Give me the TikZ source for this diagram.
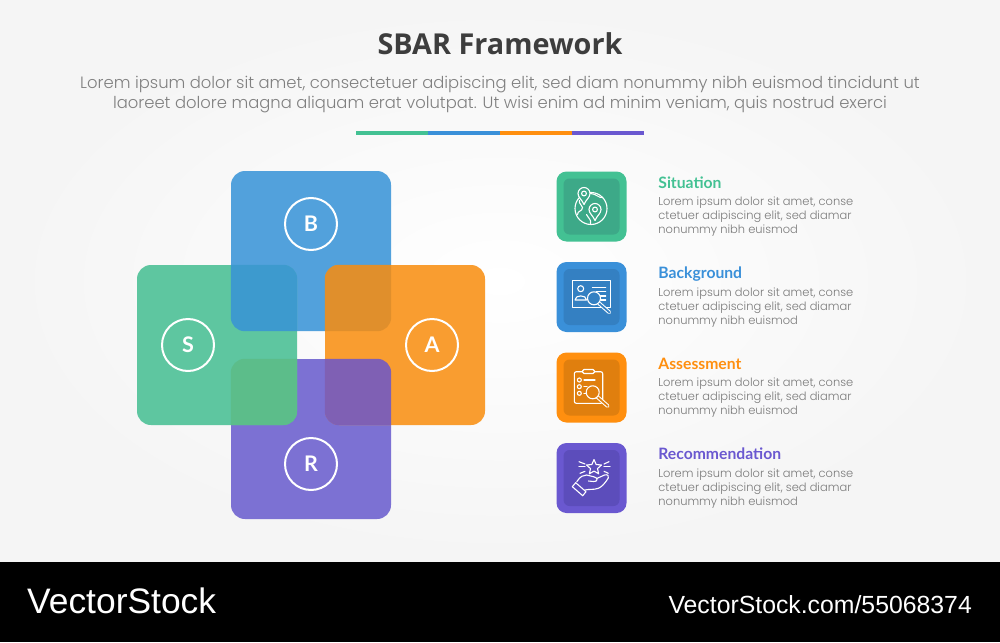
\documentclass[tikz,border=0pt]{standalone}
\usepackage{fontspec}
\usepackage{xcolor}
\usetikzlibrary{positioning}
\setmainfont{Poppins}
\newfontfamily\lightfont{Poppins Light}
\newfontfamily\headfont{Lato}
\newfontfamily\titlefont{Open Sans}
\newfontfamily\logofont{Liberation Sans}
\definecolor{sgreen}{HTML}{43C193}
\definecolor{sgreenin}{HTML}{3DA988}
\definecolor{bblue}{HTML}{3A90D9}
\definecolor{bbluein}{HTML}{3480C2}
\definecolor{aorange}{HTML}{FF8F0F}
\definecolor{aorangein}{HTML}{E07F0E}
\definecolor{rpurple}{HTML}{6A58D0}
\definecolor{rpurplein}{HTML}{5C4DBB}
\tikzstyle{big tile}=[
    minimum size = 160pt,
    inner sep = 0pt,
    rounded corners = 14pt
]
\tikzstyle{letter}=[
    draw = white,
    line width = 2pt,
    circle,
    minimum size = 52pt,
    inner sep = 0pt,
    text = white,
    font = \headfont\bfseries\fontsize{21.5}{21.5}\selectfont
]
\tikzstyle{icon tile}=[
    minimum size = 70pt,
    inner sep = 0pt,
    rounded corners = 10pt
]
\tikzstyle{icon inner}=[
    minimum size = 56pt,
    inner sep = 0pt,
    rounded corners = 6pt
]
\tikzstyle{head text}=[
    inner sep = 0pt,
    text height = 10pt,
    text depth = 3pt,
    font = \headfont\bfseries\fontsize{15.7}{15.7}\selectfont
]
\tikzstyle{body text}=[
    inner sep = 0pt,
    align = left,
    text = black!52,
    font = \lightfont\fontsize{11.45}{14}\selectfont
]
\tikzstyle{icon line}=[
    draw = white,
    line width = 1.1pt,
    line cap = round,
    line join = round
]
\tikzstyle{bar}=[
    minimum height = 4pt,
    minimum width = 72pt,
    inner sep = 0pt,
    outer sep = 0pt
]
\newcommand{\bodylorem}{Lorem ipsum dolor sit amet, conse\\ctetuer adipiscing elit, sed diamar\\nonummy nibh euismod}
% pin: x, y, fill colour
\newcommand{\mappin}[3]{
    \draw[icon line, fill=#3] (#1,#2+11) .. controls (#1-2,#2+6) and (#1-6,#2+4) .. (#1-6,#2) arc (180:360:6) .. controls (#1+6,#2+4) and (#1+2,#2+6) .. cycle;
    \draw[icon line] (#1,#2) circle (2.4);
}
% magnifier: x, y, handle end x, y, fill colour
\newcommand{\magnifier}[5]{
    \draw[line cap=round, draw=white, line width=3.8pt] (#1+4.6,#2+4.6) -- (#3,#4);
    \draw[line cap=round, draw=#5, line width=1.7pt] (#1+4.6,#2+4.6) -- (#3,#4);
    \draw[icon line, fill=#5] (#1,#2) circle (6.5);
}

\begin{document}
\begin{tikzpicture}[x=1pt, y=-1pt, node distance={90.5pt}]
    \useasboundingbox (0,0) rectangle (1000,642);
    \shade[inner color=white, outer color=black!4] (0,0) rectangle (1000,562);
    \fill[black] (0,562) rectangle (1000,642);

    \node[font=\titlefont\bfseries\fontsize{28.8}{28.8}\selectfont, text=black!76] (title) at (500,44) {SBAR Framework};
    \node[align=center, text=black!50, font=\lightfont\fontsize{16.4}{20}\selectfont] (subtitle) at (500,95) {Lorem ipsum dolor sit amet, consectetuer adipiscing elit, sed diam nonummy nibh euismod tincidunt ut\\laoreet dolore magna aliquam erat volutpat. Ut wisi enim ad minim veniam, quis nostrud exerci};

    \node[bar, fill=sgreen] (bar1) at (392,132.7) {};
    \node[bar, fill=bblue, right=0pt of bar1] (bar2) {};
    \node[bar, fill=aorange, right=0pt of bar2] (bar3) {};
    \node[bar, fill=rpurple, right=0pt of bar3] (bar4) {};

    % the four big tiles
    \node[big tile, fill={rgb,255:red,124;green,113;blue,211}] (R) at (311,439) {};
    \node[big tile, fill={rgb,255:red,82;green,161;blue,220}] (B) at (311,251) {};
    \node[big tile, fill={rgb,255:red,94;green,198;blue,160}] (S) at (217,345) {};
    \node[big tile, fill={rgb,255:red,249;green,157;blue,48}] (A) at (405,345) {};

    % overlaps
    \begin{scope}
        \clip[rounded corners=14pt] (S.south west) rectangle (S.north east);
        \fill[rounded corners=14pt, fill={rgb,255:red,61;green,154;blue,206}] (B.south west) rectangle (B.north east);
    \end{scope}
    \begin{scope}
        \clip[rounded corners=14pt] (B.south west) rectangle (B.north east);
        \fill[rounded corners=14pt, fill={rgb,255:red,224;green,143;blue,44}] (A.south west) rectangle (A.north east);
    \end{scope}
    \begin{scope}
        \clip[rounded corners=14pt] (A.south west) rectangle (A.north east);
        \fill[rounded corners=14pt, fill={rgb,255:red,127;green,96;blue,180}] (R.south west) rectangle (R.north east);
    \end{scope}
    \begin{scope}
        \clip[rounded corners=14pt] (R.south west) rectangle (R.north east);
        \fill[rounded corners=14pt, fill={rgb,255:red,92;green,189;blue,138}] (S.south west) rectangle (S.north east);
    \end{scope}

    \node[letter] (sletter) at (188,345) {S};
    \node[letter] (bletter) at (311,224) {B};
    \node[letter] (aletter) at (432,345) {A};
    \node[letter] (rletter) at (311,464) {R};

    % list on the right
    \node[icon tile, fill=sgreen] (s1) at (591.5,206.5) {};
    \node[icon tile, fill=bblue] (b1) [below of = s1] {};
    \node[icon tile, fill=aorange] (a1) [below of = b1] {};
    \node[icon tile, fill=rpurple] (r1) [below of = a1] {};
    \node[icon inner, fill=sgreenin] (s2) at (s1) {};
    \node[icon inner, fill=bbluein] (b2) at (b1) {};
    \node[icon inner, fill=aorangein] (a2) at (a1) {};
    \node[icon inner, fill=rpurplein] (r2) at (r1) {};

    \node[head text, text=sgreen] (shead) [right=31.5pt of s1.east, yshift=22pt] {Situation};
    \node[head text, text=bblue] (bhead) [right=31.5pt of b1.east, yshift=22pt] {Background};
    \node[head text, text=aorange] (ahead) [right=31.5pt of a1.east, yshift=22pt] {Assessment};
    \node[head text, text=rpurple] (rhead) [right=31.5pt of r1.east, yshift=22pt] {Recommendation};
    \node[body text] (sbody) [right=31.5pt of s1.east, yshift=-10.5pt] {\bodylorem};
    \node[body text] (bbody) [right=31.5pt of b1.east, yshift=-10.5pt] {\bodylorem};
    \node[body text] (abody) [right=31.5pt of a1.east, yshift=-10.5pt] {\bodylorem};
    \node[body text] (rbody) [right=31.5pt of r1.east, yshift=-10.5pt] {\bodylorem};

    % globe icon
    \begin{scope}[shift={(s1)}]
        \draw[icon line] (-0.5,2) circle (16);
        \draw[icon line] (-12,-6) .. controls (-13,-2) and (-9,-2) .. (-9,1) .. controls (-9,5) and (-14,4) .. (-14,8);
        \draw[icon line] (-1,-13) .. controls (4,-13) and (8,-8) .. (11,-9);
        \draw[icon line] (-5,8) .. controls (-3,12) and (0,13) .. (-1,17);
        \mappin{-7.5}{-13}{sgreenin}
        \mappin{3.5}{3}{sgreenin}
    \end{scope}

    % card icon
    \begin{scope}[shift={(b1)}]
        \draw[icon line] (-19,-16.3) rectangle (19,10.3);
        \draw[icon line] (-10.8,-8.3) circle (3);
        \draw[icon line] (-16.5,3) .. controls (-16.5,-2.5) and (-5,-2.5) .. (-5,3) -- cycle;
        \draw[icon line] (0.8,-9.7) -- (14.2,-9.7);
        \draw[icon line] (5,-5.3) -- (14.2,-5.3);
        \draw[icon line] (9,-1) -- (14.2,-1);
        \draw[icon line] (9,3) -- (14.2,3);
        \magnifier{2.5}{1.3}{17.8}{15.3}{bbluein}
    \end{scope}

    % clipboard icon
    \begin{scope}[shift={(a1)}]
        \draw[icon line, rounded corners=2pt] (-17.2,-15.8) rectangle (11.2,15.8);
        \draw[icon line, rounded corners=1.5pt, fill=aorangein] (-9,-18) rectangle (3,-14);
        \draw[icon line] (-12.2,-7.5) circle (2);
        \draw[icon line] (-12.2,-0.8) circle (2);
        \draw[icon line] (-12.2,5.8) circle (2);
        \draw[icon line] (-7.5,-7.5) -- (3.5,-7.5);
        \draw[icon line] (-7.5,-0.8) -- (-4.5,-0.8);
        \draw[icon line] (-7.5,5.8) -- (-5,5.8);
        \magnifier{1.2}{4.8}{16.2}{18.5}{aorangein}
    \end{scope}

    % hand and star icon
    \begin{scope}[shift={(r1)}]
        \draw[icon line] (2.5,-18.4) -- (4.7,-13.5) -- (10,-13) -- (6,-9.4) -- (7.2,-4.2) -- (2.5,-6.9) -- (-2.2,-4.2) -- (-1,-9.4) -- (-5,-13) -- (0.3,-13.5) -- cycle;
        \draw[icon line] (-12.5,-16.3) -- (-6.5,-14);
        \draw[icon line] (-12.5,-11.3) -- (-6.5,-11.3);
        \draw[icon line] (-11.5,-4.7) -- (-6.5,-6.7);
        \draw[icon line] (12.5,-14) -- (17.5,-16.3);
        \draw[icon line] (12.5,-11.3) -- (18.5,-11.3);
        \draw[icon line] (12.5,-6.7) -- (16.8,-4.7);
        \draw[icon line] (-19.2,8.7) -- (-15.8,4.7) -- (-5.5,13.7) -- (-8.8,17.7) -- cycle;
        \draw[icon line] (-14.8,3.7) .. controls (-11,-2) and (-8,-3) .. (-4.8,-3) -- (3,-1) .. controls (7,0) and (6,4) .. (2,3.5) -- (-3,3);
        \draw[icon line] (5.2,0.5) -- (13,-3) .. controls (16,-4) and (18,-2) .. (16.8,0) .. controls (13,6) and (10,9) .. (6.8,10.3) .. controls (2,12) and (-3,11) .. (-6.5,12);
    \end{scope}

    % footer
    \node[text=white, anchor=base west, inner sep=0pt, font=\logofont\fontsize{35.4}{35.4}\selectfont] (logo) at (27,613) {VectorStock};
    \node[text=white, anchor=base east, inner sep=0pt, font=\logofont\fontsize{24.8}{24.8}\selectfont] (link) at (972,613) {VectorStock.com/55068374};
\end{tikzpicture}
\end{document}
